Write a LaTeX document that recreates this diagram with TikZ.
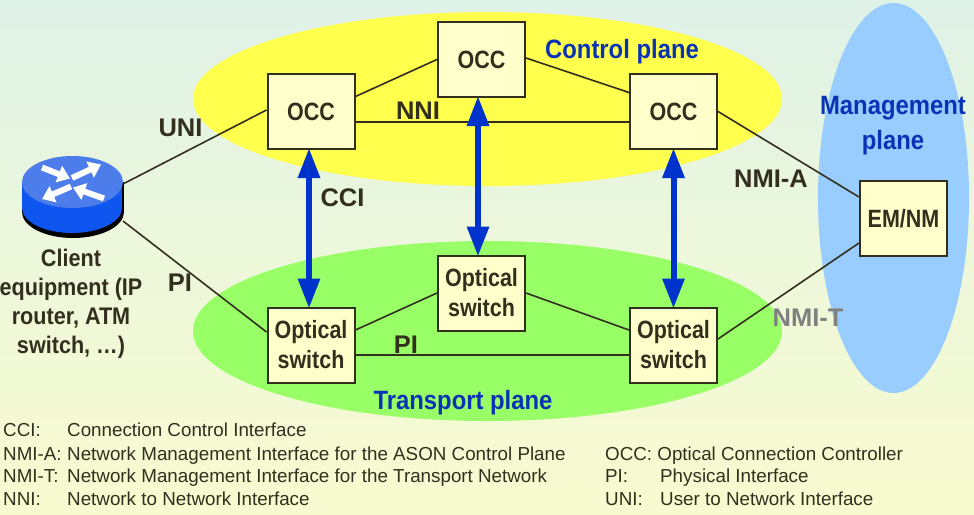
\documentclass[tikz,border=0pt]{standalone}
\usepackage{fontspec}
\setmainfont{Liberation Sans}
\newfontfamily\narrowsans[FakeStretch=0.86]{Liberation Sans}
\newfontfamily\tallsans[FakeStretch=0.9]{Liberation Sans}
\usetikzlibrary{arrows.meta}
\definecolor{asonbgtop}{HTML}{DFF2E8}
\definecolor{asonbgbot}{HTML}{F8FBCF}
\definecolor{asonyellow}{HTML}{FFFF4D}
\definecolor{asongreen}{HTML}{99FF66}
\definecolor{asonsky}{HTML}{99CCFF}
\definecolor{asonbox}{HTML}{FFFFCC}
\definecolor{asonfg}{HTML}{332F1E}
\definecolor{asonblue}{HTML}{0033CC}
\definecolor{asontitle}{HTML}{0A32B4}
\definecolor{asonrouter}{HTML}{0F55F0}
\definecolor{asonroutertop}{HTML}{4D7CEB}

\begin{document}
\begin{tikzpicture}[x=1pt,y=-1pt,font=\fontsize{25.5}{30}\selectfont\bfseries]
  \tikzstyle{unit}=[draw=asonfg, line width=2pt, fill=asonbox, minimum width=87pt, minimum height=75pt, inner sep=0pt, align=center, text=asonfg, font=\narrowsans\fontsize{25}{30}\selectfont\bfseries]
  \tikzstyle{link}=[draw=asonfg, line width=1.6pt]
  \tikzstyle{cci}=[draw=asonblue, line width=6pt, shorten >=-2pt, shorten <=-2pt, {Triangle[length=30pt,width=21pt]}-{Triangle[length=30pt,width=21pt]}]
  \tikzstyle{routerarrow}=[draw=white, line width=6pt, -{Triangle[length=12pt,width=17pt]}]
  \tikzstyle{iface}=[text=asonfg, inner sep=0pt]
  \tikzstyle{planename}=[text=asontitle, inner sep=0pt, align=center, font=\tallsans\fontsize{26.5}{35}\selectfont\bfseries]
  \tikzstyle{legend}=[font=\fontsize{18.8}{22}\selectfont\mdseries, text=asonfg, anchor=base west, inner sep=0pt]

  \shade[bottom color=asonbgbot, top color=asonbgtop, middle color=asonbgbot!55!asonbgtop] (0,0) rectangle (974,514);
  \useasboundingbox (0,0) rectangle (974,514);

  % Planes
  \fill[asonyellow] (487.5,99) ellipse [x radius=294.5, y radius=87];
  \fill[asongreen] (487.5,331) ellipse [x radius=294.5, y radius=90];
  \fill[asonsky] (893.5,198) ellipse [x radius=75.5, y radius=195];

  % Client router
  \fill[black] (22,182) rectangle (124,212);
  \fill[black] (73,212) ellipse [x radius=51, y radius=26];
  \fill[asonrouter] (22,182) rectangle (122,208);
  \fill[asonrouter] (72,208) ellipse [x radius=50, y radius=25];
  \fill[asonroutertop] (72.5,182) ellipse [x radius=50.5, y radius=26];
  \draw[routerarrow] (42,167.5) -- (70,178.5);
  \draw[routerarrow] (72,178) -- (101,164.5);
  \draw[routerarrow] (71,186.5) -- (42,199);
  \draw[routerarrow] (104,198.5) -- (73,187.5);
  \coordinate (routerup) at (123,184);
  \coordinate (routerdown) at (123,221);

  % Control plane units
  \node[unit] (occleft) at (311,111.5) {OCC};
  \node[unit] (occtop) at (481.5,59.5) {OCC};
  \node[unit] (occright) at (673.5,111.5) {OCC};

  % Transport plane units
  \node[unit] (swleft) at (311,345) {Optical\\switch};
  \node[unit] (swmid) at (481.5,293) {Optical\\switch};
  \node[unit] (swright) at (673.5,345) {Optical\\switch};

  \node[unit] (emnm) at (903.5,218.5) {EM/NM};

  % Links
  \draw[link] (routerup) -- ([yshift=1.5pt]occleft.west);
  \draw[link] (routerdown) -- ([yshift=13pt]swleft.west);
  \draw[link] ([yshift=15pt]occleft.east) -- (occtop.west);
  \draw[link] ([yshift=1.5pt]occtop.east) -- ([yshift=19pt]occright.west);
  \draw[link] ([yshift=-10.5pt]occleft.east) -- ([yshift=-10.5pt]occright.west);
  \draw[link] ([yshift=15pt]swleft.east) -- (swmid.west);
  \draw[link] (swmid.east) -- ([yshift=15pt]swright.west);
  \draw[link] ([yshift=-10pt]swleft.east) -- ([yshift=-10pt]swright.west);
  \draw[link] (occright.east) -- ([yshift=21.5pt]emnm.west);
  \draw[link] ([yshift=6pt]swright.east) -- ([yshift=-24.5pt]emnm.west);

  % Control to transport
  \draw[cci] ([xshift=-2pt]occleft.south) -- ([xshift=-2pt]swleft.north);
  \draw[cci] ([xshift=-3.5pt]occtop.south) -- ([xshift=-3.5pt]swmid.north);
  \draw[cci] (occright.south) -- (swright.north);

  % Labels
  \node[iface] (uni) at (180.5,128) {UNI};
  \node[iface] (pileft) at (180,283) {PI};
  \node[iface] (nni) at (418,111) {NNI};
  \node[iface] (cci) at (342.5,198) {CCI};
  \node[iface] (pimid) at (406,345) {PI};
  \node[iface] (nmia) at (771,179) {NMI-A};
  \node[iface, text=gray] (nmit) at (808,318) {NMI-T};
  \node[iface, align=center, font=\tallsans\fontsize{24}{29}\selectfont\bfseries] (client) at (71,304) {Client\\equipment (IP\\router, ATM\\switch, …)};
  \node[planename] (control) at (622,52) {Control plane};
  \node[planename] (transport) at (463,403) {Transport plane};
  \node[planename] (management) at (893,126) {Management\\plane};

  % Abbreviations
  \foreach \x/\y/\lab in {
    3/436.7/CCI:,3/460/NMI-A:,3/482.3/NMI-T:,3/505/NNI:,605/482.3/PI:,605/505/UNI:
  } {
    \node[legend] at (\x,\y) {\lab};
  }
  \foreach \x/\y/\lab in {
    67/436.7/Connection Control Interface,
    67/460/Network Management Interface for the ASON Control Plane,
    67/482.3/Network Management Interface for the Transport Network,
    67/505/Network to Network Interface,
    605/460/OCC: Optical Connection Controller,
    660/482.3/Physical Interface,
    660/505/User to Network Interface
  } {
    \node[legend] at (\x,\y) {\lab};
  }
\end{tikzpicture}
\end{document}
